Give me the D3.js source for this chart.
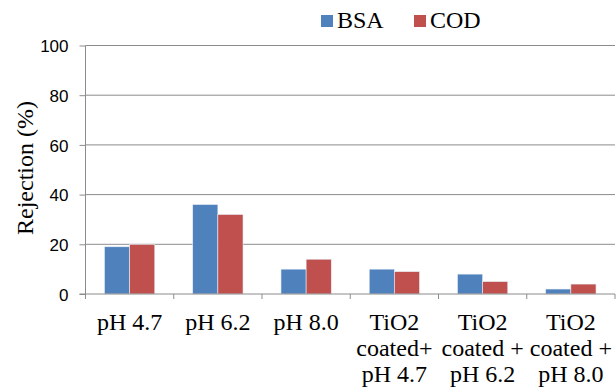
<!DOCTYPE html>
<html>
<head>
<meta charset="utf-8">
<script src="https://cdn.jsdelivr.net/npm/d3@7"></script>
<style>
  body { margin: 0; background: #fff; }
  svg { display: block; }
  .serif { font-family: "Liberation Serif", "DejaVu Serif", serif; font-size: 24px; fill: #000; }
  .num { font-family: "Liberation Sans", Arial, sans-serif; font-size: 17px; fill: #000; }
</style>
</head>
<body>
<svg id="chart" width="616" height="392"></svg>
<script>
const categories = [
  ['pH 4.7'],
  ['pH 6.2'],
  ['pH 8.0'],
  ['TiO2', 'coated+', 'pH 4.7'],
  ['TiO2', 'coated +', 'pH 6.2'],
  ['TiO2', 'coated +', 'pH 8.0']
];
const seriesNames = ['BSA', 'COD'];
const bsa = [19, 36, 10, 10, 8, 2];
const cod = [20, 32, 14, 9, 5, 4];
const yTicks = [0, 20, 40, 60, 80, 100];
const colors = ['#4F81BD', '#C0504D'];

const svg = d3.select('#chart');
const margin = { top: 45.5, right: 1, bottom: 98, left: 85.5 };
const width = 616 - margin.left - margin.right;
const height = 392 - margin.top - margin.bottom;

const g = svg.append('g').attr('transform', `translate(${margin.left},${margin.top})`);

const x0 = d3.scaleBand().domain(d3.range(categories.length)).range([0, width])
  .paddingInner(0.43).paddingOuter(0.215);
const x1 = d3.scaleBand().domain(seriesNames).range([0, x0.bandwidth()]);
const y = d3.scaleLinear().domain([0, 100]).range([height, 0]);

// gridlines
g.selectAll('.grid').data(yTicks.slice(1)).enter().append('line')
  .attr('x1', 0).attr('x2', width)
  .attr('y1', d => y(d)).attr('y2', d => y(d))
  .attr('stroke', '#8c8c8c').attr('stroke-width', 1);

// bars
const data = categories.map((c, i) => ({ i, values: [bsa[i], cod[i]] }));
const groups = g.selectAll('.grp').data(data).enter().append('g')
  .attr('transform', d => `translate(${x0(d.i)},0)`);
groups.selectAll('rect').data(d => d.values.map((v, k) => ({ k, v }))).enter().append('rect')
  .attr('x', d => x1(seriesNames[d.k]))
  .attr('y', d => y(d.v))
  .attr('width', x1.bandwidth())
  .attr('height', d => height - y(d.v))
  .attr('fill', d => colors[d.k])
  .attr('stroke', '#e8eef6').attr('stroke-width', 0.6);

// y axis
const yAxis = g.append('g').call(d3.axisLeft(y).tickValues(yTicks).tickSize(6).tickPadding(11));
yAxis.attr('font-family', null).attr('font-size', null);
yAxis.select('.domain').attr('stroke', '#8c8c8c').attr('d', `M0,${height}V0`);
yAxis.selectAll('.tick line').attr('stroke', '#8c8c8c');
yAxis.selectAll('text').attr('class', 'num').attr('fill', null).attr('dy', '0.36em');

// x axis
const xAxis = g.append('g').attr('transform', `translate(0,${height})`);
xAxis.append('line').attr('x1', -6).attr('x2', width).attr('y1', 0).attr('y2', 0)
  .attr('stroke', '#8c8c8c');
const tickPos = d3.range(categories.length + 1).map(i => i * x0.step());
xAxis.selectAll('.xt').data(tickPos).enter().append('line')
  .attr('x1', d => d).attr('x2', d => d).attr('y1', 0).attr('y2', 5)
  .attr('stroke', '#8c8c8c');
const xl = xAxis.selectAll('.xl').data(categories).enter().append('text')
  .attr('class', 'serif')
  .attr('text-anchor', 'middle')
  .attr('transform', (d, i) => `translate(${x0(i) + x0.bandwidth() / 2},0)`);
xl.selectAll('tspan').data(d => d).enter().append('tspan')
  .attr('x', 0).attr('y', (d, k) => 36 + k * 26.2).text(d => d);

// y label
svg.append('text')
  .attr('class', 'serif')
  .attr('transform', `translate(33,168) rotate(-90)`)
  .attr('text-anchor', 'middle')
  .text('Rejection (%)');

// legend
const legendX = [321, 414];
const legend = svg.selectAll('.lg').data(seriesNames).enter().append('g')
  .attr('transform', (d, i) => `translate(${legendX[i]},15)`);
legend.append('rect').attr('width', 12).attr('height', 12).attr('fill', (d, i) => colors[i]);
legend.append('text').attr('class', 'serif').attr('x', 16).attr('y', 13).text(d => d);
</script>
</body>
</html>
